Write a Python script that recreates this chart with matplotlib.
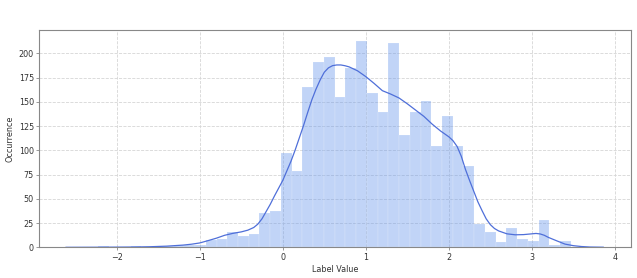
import matplotlib
matplotlib.use("Agg")
import matplotlib.pyplot as plt
import numpy as np

# histogram: 44 equal bins between the smallest and largest label value
bin_start = -2.22
bin_stop = 3.47
counts = [1, 0, 0, 1, 0, 1, 1, 2, 2, 3,
          8, 9, 16, 12, 14, 35, 38, 97, 79, 165,
          191, 196, 155, 185, 213, 159, 140, 211, 116, 140,
          151, 104, 135, 104, 84, 24, 16, 6, 20, 9,
          7, 28, 2, 7]

# kde curve (already scaled to counts)
kde_x = [-2.61, -2.2, -1.8, -1.6, -1.4, -1.2, -1.1, -1.0, -0.9, -0.8, -0.7, -0.6,
         -0.5, -0.42, -0.35, -0.3, -0.25, -0.2, -0.15, -0.1, -0.05, 0.0,
         0.05, 0.1, 0.15, 0.2, 0.25, 0.3, 0.35, 0.4, 0.45, 0.5, 0.55, 0.6,
         0.65, 0.7, 0.75, 0.8, 0.9, 1.0, 1.1, 1.2, 1.3, 1.4, 1.5, 1.6, 1.7,
         1.8, 1.9, 2.0, 2.05, 2.1, 2.15, 2.2, 2.25, 2.3, 2.35, 2.4, 2.45,
         2.5, 2.55, 2.6, 2.7, 2.8, 2.9, 3.0, 3.05, 3.1, 3.15, 3.2, 3.3,
         3.4, 3.5, 3.6, 3.7, 3.86]
kde_y = [0.1, 0.2, 0.4, 0.7, 1.3, 2.4, 3.3, 4.6, 7.0, 9.5, 12.5, 14.5,
         16.0, 17.8, 20.5, 24.0, 29.5, 37.0, 44.5, 53.0, 61.0, 69.0,
         79.0, 89.0, 100.5, 113.0, 125.5, 139.0, 152.0, 163.0, 172.5, 180.5, 185.0, 187.3,
         188.0, 188.0, 187.2, 186.0, 182.0, 176.0, 169.0, 161.5, 158.0, 154.0, 148.0, 141.5, 135.0,
         127.0, 120.0, 114.0, 110.0, 104.0, 94.0, 80.5, 69.0, 58.0, 47.0, 38.0, 29.5,
         23.5, 19.5, 17.0, 14.0, 13.0, 13.2, 14.0, 14.4, 13.9, 12.5, 10.3, 6.8,
         3.4, 1.8, 0.9, 0.4, 0.2]

x_ticks = [-2, -1, 0, 1, 2, 3, 4]
y_ticks = [0, 25, 50, 75, 100, 125, 150, 175, 200]

edges = np.linspace(bin_start, bin_stop, len(counts) + 1)

fig = plt.figure(figsize=(6.37, 2.78), dpi=100)
ax = fig.add_axes([0.062, 0.110, 0.928, 0.782])

ax.hist(edges[:-1], bins=edges, weights=counts, color="cornflowerblue",
        alpha=0.4, edgecolor="white", linewidth=0.25, zorder=2)
ax.plot(kde_x, kde_y, color="#4f6fd9", linewidth=0.9, zorder=3)

ax.set_xticks(x_ticks)
ax.set_yticks(y_ticks)
ax.set_xlim(-2.93, 4.19)
ax.set_ylim(0, 224)
ax.grid(True, linestyle="--", color="#d6d6d6", linewidth=0.6, zorder=0)
ax.set_axisbelow(True)
for s in ax.spines.values():
    s.set_color("#888888")
    s.set_linewidth(0.8)
ax.tick_params(length=2, width=0.6, color="#888888", labelsize=5.8,
               labelcolor="#333333", pad=2)
ax.set_xlabel("Label Value", fontsize=5.8, color="#333333", labelpad=2)
ax.set_ylabel("Occurrence", fontsize=5.8, color="#333333", labelpad=3)

fig.savefig("out.png", dpi=100)
